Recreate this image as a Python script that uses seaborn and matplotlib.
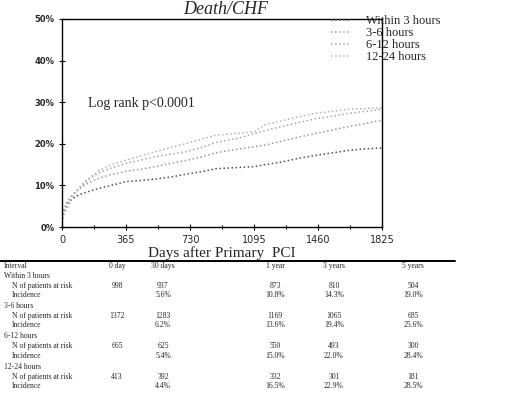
import matplotlib
matplotlib.use("Agg")
import matplotlib.pyplot as plt
import seaborn as sns
import pandas as pd
from matplotlib.lines import Line2D

# ---- data ----
groups = ["Within 3 hours", "3-6 hours", "6-12 hours", "12-24 hours"]
days = [0, 3, 10, 30, 60, 90, 120, 150, 180, 210, 270, 365, 450, 531, 620, 720,
        810, 874, 912, 1000, 1095, 1159, 1250, 1350, 1444, 1540, 1632, 1730, 1825]
pct_w3 = [0, 2.0, 3.5, 5.6, 6.8, 7.6, 8.1, 8.5, 8.9, 9.3, 9.9, 10.9, 11.2, 11.5, 12.0, 12.8,
          13.4, 14.0, 14.1, 14.3, 14.5, 15.0, 15.6, 16.5, 17.2, 17.8, 18.4, 18.8, 19.0]
pct_3_6 = [0, 2.2, 4.0, 6.2, 7.8, 8.9, 9.8, 10.6, 11.2, 11.7, 12.5, 13.4, 13.9, 14.5, 15.3, 16.1,
           17.0, 17.8, 18.1, 18.7, 19.3, 19.7, 20.6, 21.6, 22.5, 23.3, 24.1, 24.9, 25.7]
pct_6_12 = [0, 2.5, 3.8, 5.4, 7.5, 9.0, 10.2, 11.3, 12.3, 13.0, 14.0, 15.3, 16.1, 16.9, 17.5, 18.2,
            19.3, 20.3, 20.6, 21.3, 22.4, 23.2, 24.1, 25.1, 26.0, 26.6, 27.3, 27.8, 28.3]
pct_12_24 = [0, 1.8, 3.0, 4.4, 7.2, 9.0, 10.5, 11.6, 12.6, 13.5, 14.8, 16.1, 17.1, 18.1, 19.1, 20.2,
             21.3, 22.0, 22.2, 22.5, 22.9, 24.6, 25.5, 26.5, 27.3, 27.8, 28.3, 28.5, 28.6]
series = [pct_w3, pct_3_6, pct_6_12, pct_12_24]

yticks = [0, 10, 20, 30, 40, 50]
ytick_labels = ["0%", "10%", "20%", "30%", "40%", "50%"]
xticks = [0, 365, 730, 1095, 1460, 1825]

col_headers = ["Interval", "0 day", "30 days", "1 year", "3 years", "5 years"]
n_at_risk = [[998, 937, 873, 810, 504],
             [1372, 1283, 1169, 1065, 685],
             [665, 625, 550, 493, 300],
             [413, 392, 332, 301, 181]]
incidence = [["5.6%", "10.8%", "14.3%", "19.0%"],
             ["6.2%", "13.6%", "19.4%", "25.6%"],
             ["5.4%", "15.0%", "22.0%", "28.4%"],
             ["4.4%", "16.5%", "22.9%", "28.5%"]]

colors = ["#505050", "#9a9a9a", "#a8a8a8", "#b4b4b4"]

# ---- figure ----
sns.set_theme(style="white")
plt.rcParams["font.family"] = ["DejaVu Sans"]
W, H = 515, 404
fig = plt.figure(figsize=(W / 100, H / 100), dpi=100)
ax = fig.add_axes([62 / W, 1 - 227 / H, 320 / W, 208 / H])

rows = []
for g, vals in zip(groups, series):
    for d, v in zip(days, vals):
        rows.append({"day": d, "pct": v, "group": g})
df = pd.DataFrame(rows)

for g, c in zip(groups, colors):
    sub = df[df["group"] == g]
    sns.lineplot(data=sub, x="day", y="pct", ax=ax, color=c, linestyle=":",
                 linewidth=1.1, estimator=None, sort=False, legend=False)

ax.set_xlim(0, 1825)
ax.set_ylim(0, 50)
ax.set_xticks(xticks)
ax.set_xticks([182.5, 547.5, 912.5, 1277.5, 1642.5], minor=True)
ax.set_xticklabels([str(t) for t in xticks], fontsize=7, family="DejaVu Sans")
ax.set_yticks(yticks)
ax.set_yticklabels(ytick_labels, fontsize=6, fontweight="bold")
ax.tick_params(axis="both", which="major", direction="inout", length=5, width=0.8,
               color="black", pad=3, left=True, bottom=True)
ax.tick_params(axis="x", which="minor", direction="inout", length=3, width=0.8,
               color="black", bottom=True)
for s in ax.spines.values():
    s.set_visible(True)
    s.set_color("black")
    s.set_linewidth(1.0)
ax.set_xlabel("Days after Primary  PCI", fontsize=11, family="Liberation Serif", labelpad=1)
ax.set_ylabel("")
ax.grid(False)

ax.text(150, 29.7, "Log rank p<0.0001", fontsize=10, family="Liberation Serif", va="center")

fig.text(226 / W, 1 - 13.5 / H, "Death/CHF", fontsize=13, family="Liberation Serif",
         style="italic", ha="center", va="baseline")

handles = [Line2D([0], [0], color=c, linestyle=":", linewidth=1.1) for c in colors]
fig.legend(handles, groups, loc="upper left", bbox_to_anchor=(325 / W, 1 - 9 / H),
           frameon=False, prop={"family": "Liberation Serif", "size": 9},
           handlelength=1.6, handletextpad=1.2, labelspacing=0.0, borderpad=0)

# ---- table ----
fig.add_artist(Line2D([0, 455 / W], [1 - 261 / H, 1 - 261 / H], color="black", linewidth=1.4))
col_x = [4, 117, 163, 275, 334, 413]
tfs = 5.5
tfam = "Liberation Serif"
y0 = 265.5
fig.text(col_x[0] / W, 1 - y0 / H, col_headers[0], fontsize=tfs, family=tfam, va="center")
for x, h in zip(col_x[1:], col_headers[1:]):
    fig.text(x / W, 1 - y0 / H, h, fontsize=tfs, family=tfam, va="center", ha="center")
for i, g in enumerate(groups):
    yg = 275.5 + i * 30.4
    fig.text(col_x[0] / W, 1 - yg / H, g, fontsize=tfs, family=tfam, va="center")
    yn = yg + 10
    yi = yg + 19.5
    fig.text(12 / W, 1 - yn / H, "N of patients at risk", fontsize=tfs, family=tfam, va="center")
    fig.text(12 / W, 1 - yi / H, "Incidence", fontsize=tfs, family=tfam, va="center")
    for x, n in zip(col_x[1:], n_at_risk[i]):
        fig.text(x / W, 1 - yn / H, str(n), fontsize=tfs, family=tfam, va="center", ha="center")
    for x, inc in zip(col_x[2:], incidence[i]):
        fig.text(x / W, 1 - yi / H, inc, fontsize=tfs, family=tfam, va="center", ha="center")

fig.savefig("out.png", dpi=100, facecolor="white")
